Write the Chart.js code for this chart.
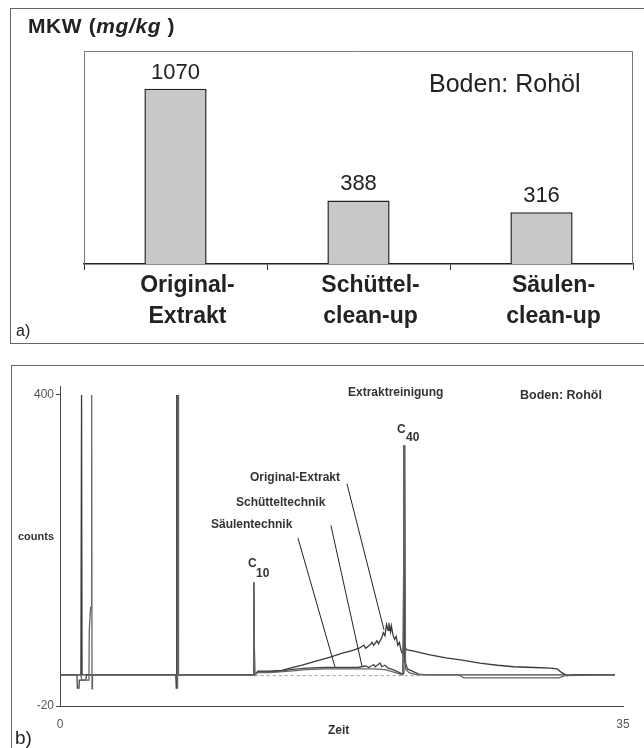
<!DOCTYPE html>
<html>
<head>
<meta charset="utf-8">
<script src="https://cdn.jsdelivr.net/npm/chart.js@4.4.1/dist/chart.umd.min.js"></script>
<style>
  html,body{margin:0;padding:0;background:#fff;}
  body{width:644px;height:748px;position:relative;overflow:hidden;font-family:"Liberation Sans",Arial,sans-serif;color:#222;}
  .box{position:absolute;border:1px solid #666;}
  .txt{position:absolute;white-space:nowrap;line-height:1;}
  canvas{position:absolute;left:0;}
  .b{font-weight:bold;font-size:12px;color:#333;}
</style>
</head>
<body>
<div class="box" style="left:10px;top:8px;width:650px;height:334px;"></div>
<div class="box" style="left:11px;top:365px;width:650px;height:400px;"></div>

<canvas id="chartA" width="644" height="345" style="top:0;width:644px;height:345px;"></canvas>
<canvas id="chartB" width="644" height="383" style="top:365px;width:644px;height:383px;"></canvas>

<!-- panel a text -->
<div class="txt" style="left:28px;top:15px;font-size:21px;font-weight:bold;letter-spacing:0.6px;">MKW (<i>mg/kg</i> )</div>
<div class="txt" style="left:429px;top:71px;font-size:25px;">Boden: Rohöl</div>
<div class="txt" style="left:16px;top:323px;font-size:16px;">a)</div>

<!-- panel b text -->
<div class="txt b" style="left:18px;top:531px;font-size:11px;">counts</div>
<div class="txt b" style="left:328px;top:724px;">Zeit</div>
<div class="txt" style="left:15px;top:728px;font-size:19px;">b)</div>
<div class="txt b" style="left:348px;top:386px;">Extraktreinigung</div>
<div class="txt b" style="left:520px;top:389px;font-size:12.5px;">Boden: Rohöl</div>
<div class="txt b" style="left:250px;top:471px;">Original-Extrakt</div>
<div class="txt b" style="left:236px;top:496px;">Schütteltechnik</div>
<div class="txt b" style="left:211px;top:518px;">Säulentechnik</div>
<div class="txt b" style="left:397px;top:423px;">C</div>
<div class="txt b" style="left:406px;top:431px;">40</div>
<div class="txt b" style="left:248px;top:557px;">C</div>
<div class="txt b" style="left:256px;top:567px;">10</div>

<script>
/* Daten: a) MKW-Gehalte */
const kategorien = [['Original-','Extrakt'],['Schüttel-','clean-up'],['Säulen-','clean-up']];
const mkw = [1070, 388, 316];

/* Daten: b) Chromatogramme (Zeit in min, counts) */
const zeitOriginal = [0,1.3,1.34,1.37,7.2,7.23,7.26,7.29,12.0,12.04,12.1,12.3,13.0,13.8,14.3,15.0,15.8,16.8,17.5,18.2,18.6,18.9,19.0,19.3,19.4,19.5,19.7,19.8,20.0,20.1,20.2,20.3,20.4,20.45,20.55,20.6,20.7,20.8,20.9,21.0,21.1,21.2,21.3,21.34,21.38,21.42,21.55,22.0,23.0,24.0,25.0,26.1,27.2,28.2,29.5,30.5,30.9,31.2,31.5,32.0,34.5];
const countsOriginal = [22,22,400,22,22,4,400,22,22,147,22,27,27,28,31,35,40,46,51,55,58,62,58,63,66,62,68,64,72,79,75,90,82,92,80,88,76,70,74,62,66,55,50,60,332,60,56,54,49,45,42,38,35,33,32,31,30,25,21,22,22];

const zeitSchuettel = [0,1.05,1.08,1.18,1.2,1.6,1.65,7.24,7.27,7.3,7.33,12.0,12.04,12.1,12.3,13.0,13.8,14.3,15.3,16.5,17.4,18.5,19.0,19.2,19.5,19.6,19.9,20.0,20.2,20.4,20.7,21.0,21.3,21.38,21.41,21.45,21.6,21.9,22.3,22.8,34.5];
const countsSchuettel = [22,22,4,4,15,15,22,22,4,400,22,22,147,22,26,26,27,29,31,32,32,32,34,32,36,33,38,33,35,31,29,26,23,24,332,40,30,27,23,22,22];

const zeitSaeulen = [0,1.3,1.35,1.8,1.82,1.9,1.95,1.97,1.99,2.02,7.28,7.31,7.34,7.37,12.0,12.05,12.1,12.3,13.0,14.3,15.3,16.5,17.4,18.5,19.5,20.2,20.7,21.0,21.3,21.44,21.48,21.7,22.2,24.8,25.1,31.0,31.4,34.5];
const countsSaeulen = [22,22,15,15,82,113,113,400,3,22,22,4,400,22,22,147,22,25,25,27,29,30,30,30,30,29,26,24,22,332,30,25,22,22,18,18,21,22];

const zeitBasislinie = [12.1, 22.5];
const countsBasislinie = [21, 21];

const xTicksB = [0, 35];
const yTicksB = [-20, 400];

const FONT = '"Liberation Sans", Arial, sans-serif';
Chart.defaults.font.family = FONT;
Chart.defaults.animation = false;

/* a) Balkendiagramm */
const rahmenA = {
  id:'rahmenA',
  beforeDatasetsDraw(chart){
    const a = chart.chartArea, ctx = chart.ctx;
    ctx.save();
    ctx.strokeStyle = '#777'; ctx.lineWidth = 1;
    ctx.beginPath();
    ctx.moveTo(a.left+0.5, a.bottom); ctx.lineTo(a.left+0.5, a.top+0.5);
    ctx.lineTo(a.right-0.5, a.top+0.5); ctx.lineTo(a.right-0.5, a.bottom);
    ctx.stroke();
    ctx.restore();
  }
};
const wertLabels = {
  id:'wertLabels',
  afterDatasetsDraw(chart){
    const ctx = chart.ctx, meta = chart.getDatasetMeta(0);
    ctx.save();
    ctx.font = '22px ' + FONT; ctx.fillStyle = '#222';
    ctx.textAlign = 'center'; ctx.textBaseline = 'middle';
    meta.data.forEach((bar,i)=>ctx.fillText(String(mkw[i]), bar.x, bar.y - 16));
    ctx.restore();
  }
};

new Chart(document.getElementById('chartA'), {
  type:'bar',
  data:{labels:kategorien, datasets:[{data:mkw, backgroundColor:'#c8c8c8', borderColor:'#222', borderWidth:1.5, barPercentage:0.34, categoryPercentage:1}]},
  options:{
    responsive:false,
    layout:{padding:{left:84,right:11,top:51,bottom:0}},
    plugins:{legend:{display:false}, tooltip:{enabled:false}},
    scales:{
      x:{
        grid:{drawOnChartArea:false, drawTicks:true, tickLength:6, color:'#333', offset:true},
        border:{color:'#222', width:1.5},
        ticks:{font:{size:23, weight:'bold', lineHeight:1.35}, color:'#222', padding:0, labelOffset:12, maxRotation:0},
        afterFit(s){ s.height = 81; }
      },
      y:{display:false, min:0, max:1300}
    }
  },
  plugins:[rahmenA, wertLabels]
});

/* b) Chromatogramme */
const leitLinien = [[17.84,280,20.14,83],[16.84,224,18.77,34],[14.79,207,17.09,33]];
const linienB = {
  id:'linienB',
  afterDatasetsDraw(chart){
    const ctx = chart.ctx, x = chart.scales.x, y = chart.scales.y;
    ctx.save();
    ctx.strokeStyle = '#222'; ctx.lineWidth = 1;
    leitLinien.forEach(l=>{
      ctx.beginPath();
      ctx.moveTo(x.getPixelForValue(l[0]), y.getPixelForValue(l[1]));
      ctx.lineTo(x.getPixelForValue(l[2]), y.getPixelForValue(l[3]));
      ctx.stroke();
    });
    ctx.restore();
  }
};
const punkte = (t,c)=>t.map((v,i)=>({x:v, y:c[i]}));
const spur = (t,c,farbe,breite,dash)=>({data:punkte(t,c), borderColor:farbe, borderWidth:breite, borderDash:dash||[], pointRadius:0, tension:0, fill:false});

new Chart(document.getElementById('chartB'), {
  type:'line',
  data:{datasets:[
    spur(zeitBasislinie, countsBasislinie, '#999', 1, [3,3]),
    spur(zeitSaeulen, countsSaeulen, '#666', 1.3),
    spur(zeitSchuettel, countsSchuettel, '#444', 1.3),
    spur(zeitOriginal, countsOriginal, '#3a3a3a', 1.3)
  ]},
  options:{
    responsive:false,
    layout:{padding:{left:0,right:21,top:21,bottom:0}},
    plugins:{legend:{display:false}, tooltip:{enabled:false}},
    scales:{
      x:{
        type:'linear', min:0, max:35,
        grid:{drawOnChartArea:false, drawTicks:false},
        border:{color:'#444', width:1},
        ticks:{font:{size:12}, color:'#555', padding:11},
        afterBuildTicks(s){ s.ticks = xTicksB.map(v=>({value:v})); },
        afterFit(s){ s.height = 42; }
      },
      y:{
        min:-20, max:412,
        grid:{drawOnChartArea:false, drawTicks:true, tickLength:4, color:'#444'},
        border:{color:'#444', width:1},
        ticks:{font:{size:12}, color:'#555', padding:2},
        afterBuildTicks(s){ s.ticks = yTicksB.map(v=>({value:v})); },
        afterFit(s){ s.width = 60; }
      }
    }
  },
  plugins:[linienB]
});
</script>
</body>
</html>
